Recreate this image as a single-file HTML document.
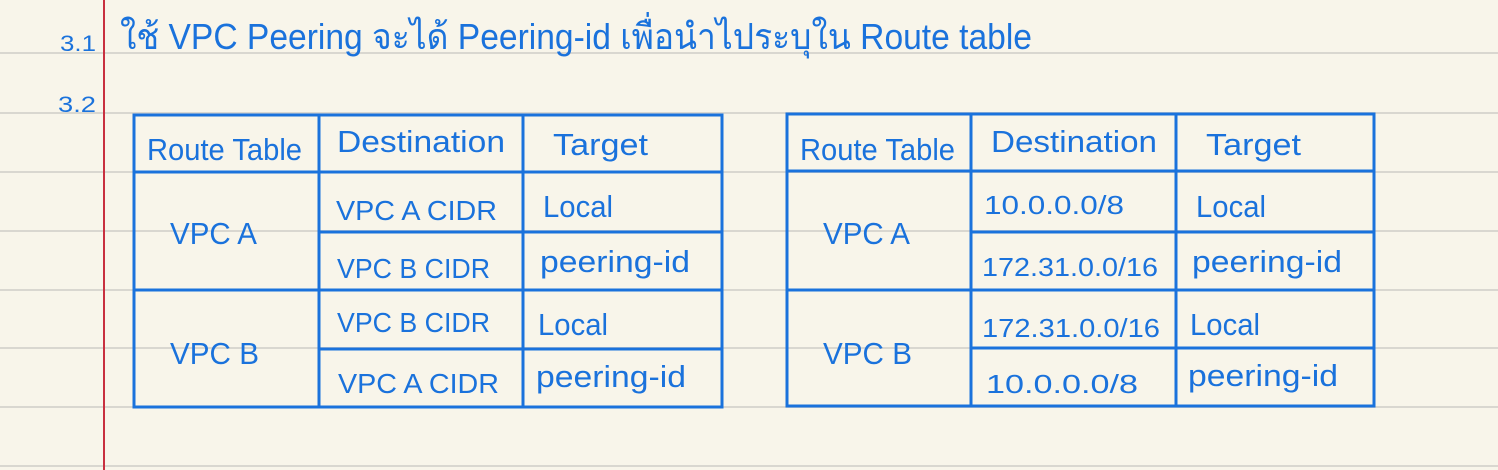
<!DOCTYPE html>
<html><head><meta charset="utf-8"><style>
html,body{margin:0;padding:0;background:#f8f5ea;}
svg{display:block}
text{font-family:"Liberation Sans","Noto Sans CJK SC",sans-serif;fill:#1a72dc;}
</style></head><body>
<svg width="1498" height="470" viewBox="0 0 1498 470" xmlns="http://www.w3.org/2000/svg">
<rect width="1498" height="470" fill="#f8f5ea"/>
<g stroke="#d9d7d0" stroke-width="2">
<line x1="0" y1="53" x2="1498" y2="53"/><line x1="0" y1="113" x2="1498" y2="113"/>
<line x1="0" y1="172" x2="1498" y2="172"/><line x1="0" y1="231" x2="1498" y2="231"/>
<line x1="0" y1="290" x2="1498" y2="290"/><line x1="0" y1="348" x2="1498" y2="348"/>
<line x1="0" y1="407" x2="1498" y2="407"/><line x1="0" y1="466" x2="1498" y2="466"/>
</g>
<line x1="104" y1="0" x2="104" y2="470" stroke="#c8303f" stroke-width="2"/>
<text x="60" y="51" font-size="22" textLength="36" lengthAdjust="spacingAndGlyphs">3.1</text>
<text x="58" y="112" font-size="22" textLength="38" lengthAdjust="spacingAndGlyphs">3.2</text>
<text x="120" y="49" font-size="36" textLength="912" lengthAdjust="spacingAndGlyphs">ใช้ VPC Peering จะได้ Peering-id เพื่อนำไประบุใน Route table</text>
<g fill="none" stroke="#1a72dc" stroke-width="3">
<rect x="134" y="115" width="588" height="292"/>
<line x1="319" y1="115" x2="319" y2="407"/><line x1="523" y1="115" x2="523" y2="407"/>
<line x1="134" y1="172" x2="722" y2="172"/><line x1="319" y1="232" x2="722" y2="232"/>
<line x1="134" y1="290" x2="722" y2="290"/><line x1="319" y1="349" x2="722" y2="349"/>
<rect x="787" y="114" width="587" height="292"/>
<line x1="971" y1="114" x2="971" y2="406"/><line x1="1176" y1="114" x2="1176" y2="406"/>
<line x1="787" y1="171" x2="1374" y2="171"/><line x1="971" y1="232" x2="1374" y2="232"/>
<line x1="787" y1="290" x2="1374" y2="290"/><line x1="971" y1="348" x2="1374" y2="348"/>
</g>
<g font-size="31">
<text x="147" y="160" textLength="155" lengthAdjust="spacingAndGlyphs">Route Table</text>
<text x="337" y="152" textLength="168" lengthAdjust="spacingAndGlyphs">Destination</text>
<text x="553" y="155" textLength="95" lengthAdjust="spacingAndGlyphs">Target</text>
<text x="170" y="244" textLength="87" lengthAdjust="spacingAndGlyphs">VPC A</text>
<text x="170" y="364" textLength="89" lengthAdjust="spacingAndGlyphs">VPC B</text>
<text x="336" y="220" font-size="28" textLength="161" lengthAdjust="spacingAndGlyphs">VPC A CIDR</text>
<text x="337" y="278" font-size="28" textLength="153" lengthAdjust="spacingAndGlyphs">VPC B CIDR</text>
<text x="337" y="332" font-size="28" textLength="153" lengthAdjust="spacingAndGlyphs">VPC B CIDR</text>
<text x="338" y="393" font-size="28" textLength="161" lengthAdjust="spacingAndGlyphs">VPC A CIDR</text>
<text x="543" y="217" textLength="70" lengthAdjust="spacingAndGlyphs">Local</text>
<text x="540" y="272" textLength="150" lengthAdjust="spacingAndGlyphs">peering-id</text>
<text x="538" y="335" textLength="70" lengthAdjust="spacingAndGlyphs">Local</text>
<text x="536" y="387" textLength="150" lengthAdjust="spacingAndGlyphs">peering-id</text>

<text x="800" y="160" textLength="155" lengthAdjust="spacingAndGlyphs">Route Table</text>
<text x="991" y="152" textLength="166" lengthAdjust="spacingAndGlyphs">Destination</text>
<text x="1206" y="155" textLength="95" lengthAdjust="spacingAndGlyphs">Target</text>
<text x="823" y="244" textLength="87" lengthAdjust="spacingAndGlyphs">VPC A</text>
<text x="823" y="364" textLength="89" lengthAdjust="spacingAndGlyphs">VPC B</text>
<text x="984" y="214" font-size="26" textLength="140" lengthAdjust="spacingAndGlyphs">10.0.0.0/8</text>
<text x="982" y="276" font-size="26" textLength="176" lengthAdjust="spacingAndGlyphs">172.31.0.0/16</text>
<text x="982" y="337" font-size="26" textLength="178" lengthAdjust="spacingAndGlyphs">172.31.0.0/16</text>
<text x="986" y="393" font-size="26" textLength="152" lengthAdjust="spacingAndGlyphs">10.0.0.0/8</text>
<text x="1196" y="217" textLength="70" lengthAdjust="spacingAndGlyphs">Local</text>
<text x="1192" y="272" textLength="150" lengthAdjust="spacingAndGlyphs">peering-id</text>
<text x="1190" y="335" textLength="70" lengthAdjust="spacingAndGlyphs">Local</text>
<text x="1188" y="386" textLength="150" lengthAdjust="spacingAndGlyphs">peering-id</text>
</g>
</svg>
</body></html>
